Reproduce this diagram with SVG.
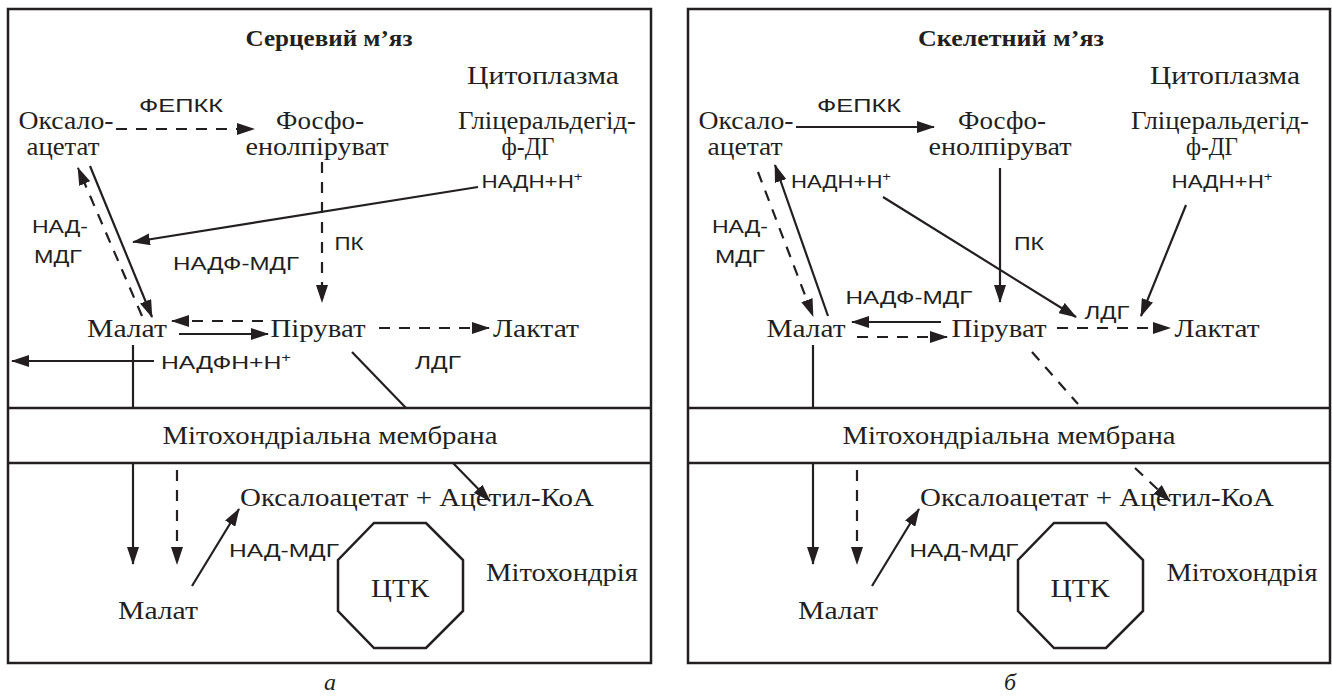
<svg xmlns="http://www.w3.org/2000/svg" width="1332" height="697" viewBox="0 0 1332 697">
<style>
.box{fill:none;stroke:#231f20;stroke-width:2.5}
.ln{fill:none;stroke:#231f20;stroke-width:2.2}
.ds{fill:none;stroke:#231f20;stroke-width:2.2;stroke-dasharray:11 9}
.t{font-family:"Liberation Serif","Times New Roman",serif;font-size:25px;fill:#231f20;text-anchor:middle}
.b{font-family:"Liberation Serif","Times New Roman",serif;font-size:23px;font-weight:bold;fill:#231f20;text-anchor:middle}
.s{font-family:"Liberation Sans","Arial",sans-serif;font-size:18px;fill:#231f20;text-anchor:middle}
.i{font-family:"Liberation Serif","Times New Roman",serif;font-size:24px;font-style:italic;fill:#231f20;text-anchor:middle}
.oct{fill:none;stroke:#231f20;stroke-width:2.5}
</style>
<defs>
<marker id="ah" markerUnits="userSpaceOnUse" markerWidth="18" markerHeight="12" refX="17" refY="6" orient="auto">
<path d="M0,0 L18,6 L0,12 z" fill="#231f20"/>
</marker>
</defs>
<rect width="1332" height="697" fill="#ffffff"/>

<!-- Panel a -->
<g id="panel-a">
<rect class="box" x="8" y="9" width="643" height="654"/>
<line class="box" x1="8" y1="408" x2="651" y2="408"/>
<line class="box" x1="8" y1="463" x2="651" y2="463"/>
<text class="b" x="329" y="46" textLength="167" lengthAdjust="spacingAndGlyphs">Серцевий м’яз</text>
<text class="t" x="543" y="84" textLength="152" lengthAdjust="spacingAndGlyphs">Цитоплазма</text>
<text class="t" x="330" y="444" textLength="335" lengthAdjust="spacingAndGlyphs">Мітохондріальна мембрана</text>
<text class="t" x="562" y="581" textLength="152" lengthAdjust="spacingAndGlyphs">Мітохондрія</text>
<text class="i" x="330" y="690">а</text>
</g>
<g id="a-oxaloacetate"><text class="t" x="66" y="129" textLength="95" lengthAdjust="spacingAndGlyphs">Оксало-</text><text class="t" x="63" y="155" textLength="73" lengthAdjust="spacingAndGlyphs">ацетат</text></g>
<g id="a-pep"><text class="t" x="320" y="129" textLength="88" lengthAdjust="spacingAndGlyphs">Фосфо-</text><text class="t" x="317" y="155" textLength="143" lengthAdjust="spacingAndGlyphs">енолпіруват</text></g>
<g id="a-g3p"><text class="t" x="547" y="129" textLength="178" lengthAdjust="spacingAndGlyphs">Гліцеральдегід-</text><text class="t" x="528" y="155" textLength="53" lengthAdjust="spacingAndGlyphs">ф-ДГ</text></g>
<g id="a-malate"><text class="t" x="127" y="337" textLength="80" lengthAdjust="spacingAndGlyphs">Малат</text></g>
<g id="a-pyruvate"><text class="t" x="318" y="337" textLength="95" lengthAdjust="spacingAndGlyphs">Піруват</text></g>
<g id="a-lactate"><text class="t" x="536" y="337" textLength="86" lengthAdjust="spacingAndGlyphs">Лактат</text></g>
<g id="a-oaa-acoa"><text class="t" x="417" y="506" textLength="354" lengthAdjust="spacingAndGlyphs">Оксалоацетат + Ацетил-КоА</text></g>
<g id="a-malate-mito"><text class="t" x="158" y="619" textLength="80" lengthAdjust="spacingAndGlyphs">Малат</text></g>
<g id="a-tca"><polygon class="oct" points="374,523 426,523 463,560 463,611 426,648 374,648 338,611 338,560"/><text class="t" x="400" y="597" textLength="58" lengthAdjust="spacingAndGlyphs">ЦТК</text></g>
<g id="a-labels">
<text class="s" x="181" y="112" textLength="84" lengthAdjust="spacingAndGlyphs">ФЕПКК</text>
<text class="s" x="532" y="188" textLength="101" lengthAdjust="spacingAndGlyphs">НАДН+Н<tspan font-size="12" dy="-7">+</tspan></text>
<text class="s" x="349" y="250" textLength="29" lengthAdjust="spacingAndGlyphs">ПК</text>
<text class="s" x="236" y="270" textLength="126" lengthAdjust="spacingAndGlyphs">НАДФ-МДГ</text>
<text class="s" x="60" y="233" textLength="56" lengthAdjust="spacingAndGlyphs">НАД-</text>
<text class="s" x="58" y="263" textLength="48" lengthAdjust="spacingAndGlyphs">МДГ</text>
<text class="s" x="226" y="369" textLength="130" lengthAdjust="spacingAndGlyphs">НАДФН+Н<tspan font-size="12" dy="-7">+</tspan></text>
<text class="s" x="438" y="369" textLength="46" lengthAdjust="spacingAndGlyphs">ЛДГ</text>
<text class="s" x="284" y="557" textLength="110" lengthAdjust="spacingAndGlyphs">НАД-МДГ</text>
</g>
<g id="a-connectors">
<line class="ds" x1="116" y1="129" x2="254" y2="129" marker-end="url(#ah)"/>
<line class="ds" x1="322" y1="162" x2="322" y2="302" marker-end="url(#ah)"/>
<line class="ln" x1="478" y1="187" x2="133" y2="242" marker-end="url(#ah)"/>
<line class="ln" x1="90" y1="166" x2="152" y2="317" marker-end="url(#ah)"/>
<line class="ds" x1="142" y1="316" x2="78" y2="168" marker-end="url(#ah)"/>
<line class="ds" x1="263" y1="321" x2="172" y2="321" marker-end="url(#ah)"/>
<line class="ln" x1="179" y1="334" x2="268" y2="334" marker-end="url(#ah)"/>
<line class="ds" x1="379" y1="328" x2="489" y2="328" marker-end="url(#ah)"/>
<line class="ln" x1="154" y1="361" x2="12" y2="361" marker-end="url(#ah)"/>
<line class="ln" x1="133" y1="345" x2="133" y2="408"/>
<line class="ln" x1="133" y1="463" x2="133" y2="564" marker-end="url(#ah)"/>
<line class="ds" x1="177" y1="470" x2="177" y2="564" marker-end="url(#ah)"/>
<line class="ln" x1="192" y1="586" x2="239" y2="509" marker-end="url(#ah)"/>
<line class="ln" x1="352" y1="352" x2="406" y2="408"/>
<line class="ln" x1="453" y1="463" x2="490" y2="501" marker-end="url(#ah)"/>
</g>

<!-- Panel b -->
<g id="panel-b">
<rect class="box" x="688" y="9" width="642" height="654"/>
<line class="box" x1="688" y1="408" x2="1330" y2="408"/>
<line class="box" x1="688" y1="463" x2="1330" y2="463"/>
<text class="b" x="1011" y="46" textLength="186" lengthAdjust="spacingAndGlyphs">Скелетний м’яз</text>
<text class="t" x="1225" y="84" textLength="150" lengthAdjust="spacingAndGlyphs">Цитоплазма</text>
<text class="t" x="1009" y="444" textLength="333" lengthAdjust="spacingAndGlyphs">Мітохондріальна мембрана</text>
<text class="t" x="1242" y="581" textLength="151" lengthAdjust="spacingAndGlyphs">Мітохондрія</text>
<text class="i" x="1010" y="690">б</text>
</g>
<g id="b-oxaloacetate"><text class="t" x="746" y="129" textLength="95" lengthAdjust="spacingAndGlyphs">Оксало-</text><text class="t" x="745" y="155" textLength="75" lengthAdjust="spacingAndGlyphs">ацетат</text></g>
<g id="b-pep"><text class="t" x="1002" y="129" textLength="88" lengthAdjust="spacingAndGlyphs">Фосфо-</text><text class="t" x="1000" y="155" textLength="143" lengthAdjust="spacingAndGlyphs">енолпіруват</text></g>
<g id="b-g3p"><text class="t" x="1220" y="129" textLength="178" lengthAdjust="spacingAndGlyphs">Гліцеральдегід-</text><text class="t" x="1212" y="155" textLength="52" lengthAdjust="spacingAndGlyphs">ф-ДГ</text></g>
<g id="b-malate"><text class="t" x="806" y="337" textLength="79" lengthAdjust="spacingAndGlyphs">Малат</text></g>
<g id="b-pyruvate"><text class="t" x="999" y="337" textLength="95" lengthAdjust="spacingAndGlyphs">Піруват</text></g>
<g id="b-lactate"><text class="t" x="1217" y="337" textLength="85" lengthAdjust="spacingAndGlyphs">Лактат</text></g>
<g id="b-oaa-acoa"><text class="t" x="1097" y="506" textLength="354" lengthAdjust="spacingAndGlyphs">Оксалоацетат + Ацетил-КоА</text></g>
<g id="b-malate-mito"><text class="t" x="838" y="619" textLength="80" lengthAdjust="spacingAndGlyphs">Малат</text></g>
<g id="b-tca"><polygon class="oct" points="1054,523 1106,523 1143,560 1143,611 1106,648 1054,648 1018,611 1018,560"/><text class="t" x="1080" y="597" textLength="59" lengthAdjust="spacingAndGlyphs">ЦТК</text></g>
<g id="b-labels">
<text class="s" x="859" y="112" textLength="84" lengthAdjust="spacingAndGlyphs">ФЕПКК</text>
<text class="s" x="841" y="188" textLength="100" lengthAdjust="spacingAndGlyphs">НАДН+Н<tspan font-size="12" dy="-7">+</tspan></text>
<text class="s" x="1222" y="188" textLength="101" lengthAdjust="spacingAndGlyphs">НАДН+Н<tspan font-size="12" dy="-7">+</tspan></text>
<text class="s" x="1029" y="250" textLength="30" lengthAdjust="spacingAndGlyphs">ПК</text>
<text class="s" x="909" y="304" textLength="127" lengthAdjust="spacingAndGlyphs">НАДФ-МДГ</text>
<text class="s" x="740" y="233" textLength="56" lengthAdjust="spacingAndGlyphs">НАД-</text>
<text class="s" x="740" y="263" textLength="50" lengthAdjust="spacingAndGlyphs">МДГ</text>
<text class="s" x="1107" y="319" textLength="45" lengthAdjust="spacingAndGlyphs">ЛДГ</text>
<text class="s" x="964" y="557" textLength="109" lengthAdjust="spacingAndGlyphs">НАД-МДГ</text>
</g>
<g id="b-connectors">
<line class="ln" x1="796" y1="127" x2="934" y2="127" marker-end="url(#ah)"/>
<line class="ln" x1="1000" y1="168" x2="1000" y2="302" marker-end="url(#ah)"/>
<line class="ln" x1="883" y1="197" x2="1076" y2="317" marker-end="url(#ah)"/>
<line class="ln" x1="1186" y1="205" x2="1141" y2="316" marker-end="url(#ah)"/>
<line class="ln" x1="828" y1="316" x2="775" y2="165" marker-end="url(#ah)"/>
<line class="ds" x1="758" y1="172" x2="813" y2="316" marker-end="url(#ah)"/>
<line class="ln" x1="941" y1="322" x2="852" y2="322" marker-end="url(#ah)"/>
<line class="ds" x1="857" y1="337" x2="947" y2="337" marker-end="url(#ah)"/>
<line class="ds" x1="1057" y1="328" x2="1170" y2="328" marker-end="url(#ah)"/>
<line class="ln" x1="813" y1="345" x2="813" y2="408"/>
<line class="ln" x1="813" y1="463" x2="813" y2="564" marker-end="url(#ah)"/>
<line class="ds" x1="857" y1="470" x2="857" y2="564" marker-end="url(#ah)"/>
<line class="ln" x1="872" y1="586" x2="919" y2="509" marker-end="url(#ah)"/>
<line class="ds" x1="1032" y1="352" x2="1078" y2="404"/>
<line class="ds" x1="1135" y1="468" x2="1170" y2="501" marker-end="url(#ah)"/>
</g>
</svg>
